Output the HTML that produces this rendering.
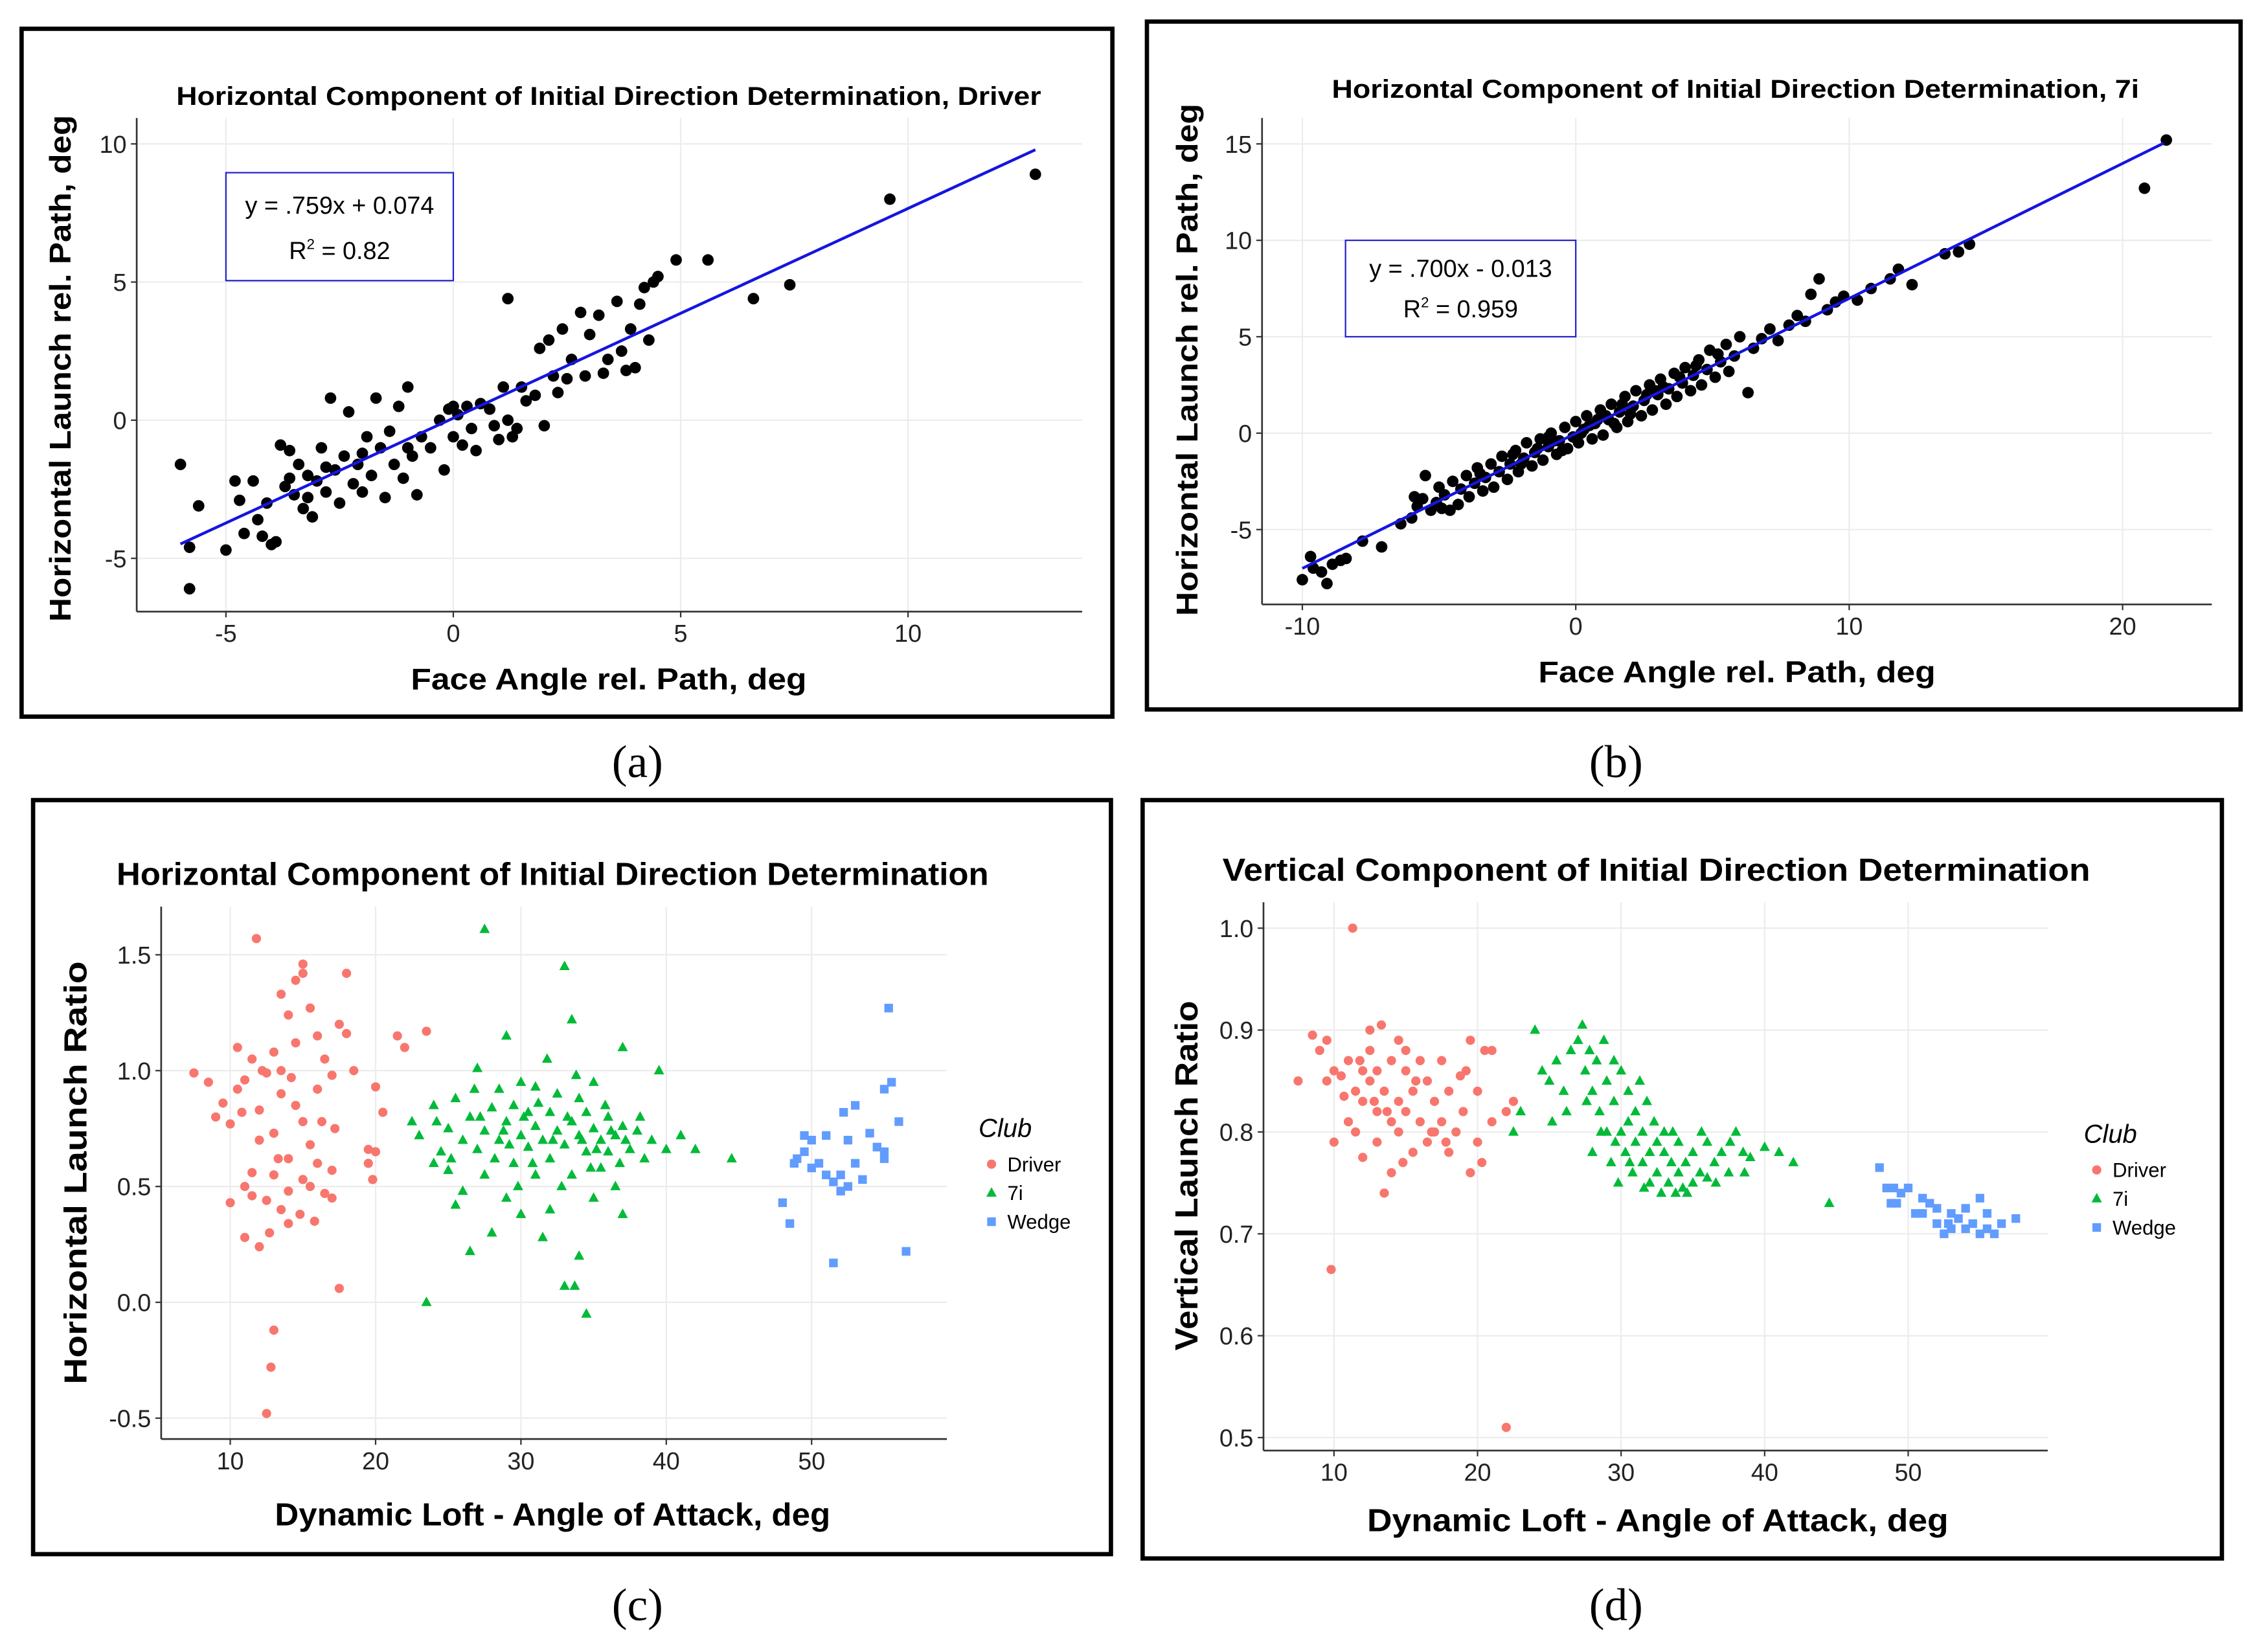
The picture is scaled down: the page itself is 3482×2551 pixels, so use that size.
<!DOCTYPE html>
<html><head><meta charset="utf-8"><style>
html,body{margin:0;padding:0;background:#fff}
svg{display:block}
text{font-family:"Liberation Sans",sans-serif}
text.cap{font-family:"Liberation Serif",serif}
</style></head><body>
<svg id="s" width="3482" height="2551" viewBox="0 0 1567 1148" preserveAspectRatio="none" xmlns="http://www.w3.org/2000/svg"></svg>
<script>
// ---- data (a) ----
const aX=[-6,-5.8,-5.8,-5.6,-5,-4.8,-4.6,-4.4,-4.3,-4.2,-4.1,-4.0,-3.9,-3.8,-3.7,-3.6,-3.5,-3.4,-3.3,-3.2,-3.1,-3.0,-2.9,-2.8,-2.7,-2.6,-2.5,-2.4,-2.3,-2.2,-2.1,-2.0,-1.9,-1.8,-1.7,-1.6,-1.5,-1.4,-1.3,-1.2,-1.1,-1.0,-0.9,-0.8,-0.7,-0.5,-0.3,-0.2,0,0,0.1,0.2,0.3,0.5,0.6,0.8,0.9,1.0,1.1,1.2,1.3,1.2,1.4,1.5,1.6,1.8,1.9,2.0,2.1,2.2,2.4,2.5,2.6,2.8,2.9,3.0,3.2,3.4,3.6,3.7,3.8,3.9,4.0,4.1,4.2,4.3,4.4,4.5,4.9,5.6,6.6,7.4,9.6,12.8,-3.6,-2.8,-1.0,0.4,2.3,3.3,-0.1,-4.7,-3.2,-2.0];
const aY=[-1.6,-4.6,-6.1,-3.1,-4.7,-2.2,-4.1,-2.2,-3.6,-4.2,-3.0,-4.5,-4.4,-0.9,-2.4,-1.1,-2.7,-1.6,-3.2,-2.0,-3.5,-2.2,-1.0,-2.6,0.8,-1.8,-3.0,-1.3,0.3,-2.3,-1.6,-2.6,-0.6,-2.0,0.8,-1.0,-2.8,-0.4,-1.6,0.5,-2.1,1.2,-1.3,-2.7,-0.6,-1.0,0.0,-1.8,0.5,-0.6,0.2,-0.9,0.5,-1.1,0.6,0.4,-0.2,-0.7,1.2,0.0,-0.6,4.4,-0.3,1.2,0.7,0.9,2.6,-0.2,2.9,1.6,3.3,1.5,2.2,3.9,1.6,3.1,3.8,2.2,4.3,2.5,1.8,3.3,1.9,4.2,4.8,2.9,5.0,5.2,5.8,5.8,4.4,4.9,8.0,8.9,-2.1,-1.7,-1.0,-0.3,1.0,1.7,0.4,-2.9,-2.8,-1.2];
const aFit=[0.759,0.074];
const aXticks=[-5,0,5,10], aYticks=[-5,0,5,10];
// ---- data (b) ----
const bX=[-10,-9.7,-9.6,-9.3,-9.1,-8.9,-8.6,-8.4,-7.8,-7.1,-6.4,-6.0,-5.8,-5.6,-5.5,-5.3,-5.1,-5.0,-4.8,-4.6,-4.5,-4.3,-4.2,-4.0,-3.9,-3.7,-3.6,-3.4,-3.3,-3.1,-3.0,-2.8,-2.7,-2.5,-2.4,-2.2,-2.1,-1.9,-1.8,-1.6,-1.5,-1.3,-1.2,-1.0,-0.9,-0.7,-0.6,-0.4,-0.3,-0.1,0,0.1,0.3,0.4,0.6,0.7,0.9,1.0,1.2,1.3,1.5,1.6,1.8,1.9,2.1,2.2,2.4,2.5,2.7,2.8,3.0,3.1,3.3,3.4,3.6,3.7,3.9,4.0,4.2,4.3,4.5,4.6,4.8,4.9,5.1,5.3,5.5,5.6,5.8,6.0,6.3,6.5,6.8,7.1,7.4,7.8,8.1,8.4,8.6,8.9,9.2,9.5,9.8,10.3,10.8,11.5,11.8,12.3,13.5,14.0,14.4,20.8,21.6,-2.0,-1.0,0.2,1.1,2.0,3.2,-0.5,0.5,-3.5,1.4,2.6,4.4,-5.9,-4.9,-2.3,0.8,1.7,-1.4,2.9,3.8,5.2,-0.8];
const bY=[-7.6,-6.4,-7.0,-7.2,-7.8,-6.8,-6.6,-6.5,-5.6,-5.9,-4.7,-4.4,-3.8,-3.4,-2.2,-4.0,-3.6,-2.8,-3.2,-4.0,-2.5,-3.7,-2.9,-2.2,-3.3,-2.6,-1.8,-3.0,-2.3,-1.6,-2.8,-2.0,-1.2,-2.4,-1.6,-0.9,-2.0,-1.3,-0.5,-1.7,-1.0,-0.3,-1.4,-0.7,0.0,-1.1,-0.4,0.3,-0.8,-0.2,0.6,-0.5,0.2,0.9,-0.3,0.5,1.2,-0.1,0.7,1.5,0.3,1.1,1.9,0.6,1.4,2.2,0.9,1.7,2.5,1.2,2.0,2.8,1.5,2.3,3.1,1.9,2.6,3.4,2.2,3.0,3.8,2.5,3.3,4.3,2.9,3.7,4.6,3.2,4.0,5.0,2.1,4.4,4.9,5.4,4.8,5.6,6.1,5.8,7.2,8.0,6.4,6.8,7.1,6.9,7.5,8.0,8.5,7.7,9.3,9.4,9.8,12.7,15.2,-1.6,-0.2,0.0,0.9,1.0,2.4,-0.9,0.4,-2.1,0.5,2.0,3.5,-3.3,-3.9,-1.1,0.7,1.5,-0.8,2.2,2.9,4.1,-0.4];
const bFit=[0.700,-0.013];
const bXticks=[-10,0,10,20], bYticks=[-5,0,5,10,15];
// ---- data (c) ----
const cDrvX=[7.5,8.5,9,9.5,10,10,10.5,10.5,11,11,11,11.5,11.5,11.5,11.8,12,12,12.2,12.5,12.5,12.5,12.8,13,13,13,13,13.5,13.5,13.5,13.5,14,14,14,14,14.5,14.5,14.5,14.8,15,15,15,15,15.5,15.5,15.5,16,16,16,16.5,16.5,17,17,17,17.5,17.5,18,18,18.5,19.5,19.5,20,20,20.5,21.5,22,23.5,12,13.3,14.2,16.3,10.8,12.7,15.8,17.2,19.8];
const cDrvY=[0.99,0.95,0.8,0.86,0.77,0.43,1.1,0.92,0.28,0.5,0.96,0.56,1.05,0.46,1.57,0.24,0.83,1.0,-0.48,0.44,0.99,-0.28,-0.12,1.08,0.73,0.55,1.33,0.9,0.4,1.0,1.24,0.62,0.48,0.34,1.39,0.85,1.12,0.38,1.42,0.78,0.53,1.46,1.27,0.5,0.68,1.15,0.92,0.6,0.47,1.05,0.98,0.57,0.45,1.2,0.06,1.42,1.16,1.0,0.66,0.6,0.93,0.65,0.82,1.15,1.1,1.17,0.7,0.62,0.97,0.78,0.82,0.3,0.35,0.75,0.53];
const c7iX=[22.5,23,23.5,24,24.5,25,25,25.5,26,26,26.5,26.5,27,27,27.5,27.5,27.5,28,28,28.5,28.5,29,29,29,29.5,29.5,30,30,30,30.5,30.5,31,31,31,31.5,31.5,32,32,32,32.5,32.5,33,33,33,33.5,33.5,33.5,34,34,34,34.5,34.5,34.5,35,35,35,35.5,35.5,36,36,36.5,36.5,37,37,37,37.5,38,38.5,39,39.5,40,41,42,44.5,24,25.5,26.8,28.2,29.8,30.8,31.8,32.8,33.8,34.8,35.8,36.8,32.2,30.2,28.8,27.2,33.2,34.2,35.2,36.2,31.2,29.2,25.2,33.7,24.2,38.2,37.2];
const c7iY=[0.78,0.72,0.0,0.85,0.65,0.75,0.57,0.88,0.7,0.48,0.8,0.22,0.66,1.01,1.61,0.74,0.55,0.84,0.3,0.7,0.92,0.78,0.45,1.15,0.6,0.85,0.72,0.95,0.38,0.67,0.82,0.76,0.55,0.93,0.7,0.28,0.82,0.62,0.4,0.74,0.9,1.45,0.68,0.07,0.78,1.22,0.55,0.72,0.2,0.88,0.65,-0.05,0.82,0.75,0.45,0.95,0.7,0.58,0.8,0.65,0.72,0.5,0.76,1.1,0.38,0.66,0.74,0.62,0.7,1.0,0.66,0.72,0.66,0.62,0.6,0.42,0.92,0.62,0.5,0.6,1.05,0.5,0.98,0.58,0.85,0.6,0.7,0.8,0.74,0.8,0.8,0.7,0.66,0.74,0.86,0.68,0.62,0.07,0.78,0.8,0.7];
const cWdgX=[48,48.5,48.8,49,49.5,49.5,50,50,50.5,51,51,51.5,51.5,52,52,52.5,52.5,53,53,53.5,54,54.5,55,55,55.3,55.5,56,56.5,52.2,55];
const cWdgY=[0.43,0.34,0.6,0.62,0.72,0.65,0.58,0.7,0.6,0.72,0.55,0.52,0.17,0.48,0.55,0.7,0.5,0.6,0.85,0.53,0.73,0.67,0.62,0.92,1.27,0.95,0.78,0.22,0.82,0.65];
const cXticks=[10,20,30,40,50], cYticks=[-0.5,0.0,0.5,1.0,1.5];
const cYlabels=["-0.5","0.0","0.5","1.0","1.5"];
// ---- data (d) ----
const dDrvX=[7.5,8.5,9,9.5,9.5,9.8,10,10,10.5,11,11,11.3,11.5,11.5,12,12,12,12.5,12.5,12.5,13,13,13,13.3,13.5,13.5,14,14,14,14.5,14.5,14.5,15,15,15,15.5,15.5,16,16,16.5,16.5,17,17,17.5,17.5,18,18,18.5,19,19.5,19.5,20,20,20.5,21,21,22,22,22.5,10.7,11.8,13.7,15.7,16.8,18.8,20.3,14.8,12.8,17.8,19.2];
const dDrvY=[0.85,0.895,0.88,0.89,0.85,0.665,0.79,0.86,0.855,0.87,0.81,1.0,0.84,0.8,0.86,0.83,0.775,0.88,0.85,0.9,0.82,0.86,0.79,0.905,0.84,0.74,0.87,0.81,0.76,0.89,0.83,0.8,0.86,0.82,0.88,0.84,0.78,0.87,0.81,0.85,0.79,0.83,0.8,0.87,0.81,0.84,0.78,0.8,0.82,0.76,0.89,0.84,0.79,0.88,0.81,0.88,0.82,0.51,0.83,0.835,0.87,0.82,0.85,0.8,0.855,0.77,0.77,0.83,0.79,0.86];
const d7iX=[23,24,24.5,25,25.5,26,26.5,27,27.3,27.5,27.8,28,28,28.3,28.5,28.8,29,29,29.3,29.5,29.5,29.8,30,30,30.3,30.5,30.5,30.8,31,31,31.3,31.5,31.5,31.8,32,32,32.3,32.5,32.5,32.8,33,33,33.3,33.5,33.8,34,34,34.3,34.5,35,35,35.5,36,36,36.5,37,37.5,38,38.5,39,40,41,42,44.5,22.5,26.2,25.2,27.6,28.6,29.6,30.6,31.6,33.6,35.6,34.6,36.6,37.6,38.6];
const d7iY=[0.82,0.9,0.86,0.85,0.87,0.84,0.88,0.89,0.905,0.86,0.88,0.84,0.78,0.87,0.82,0.89,0.85,0.8,0.77,0.87,0.83,0.75,0.8,0.86,0.78,0.84,0.81,0.76,0.82,0.79,0.85,0.77,0.8,0.83,0.78,0.75,0.81,0.76,0.79,0.74,0.78,0.8,0.75,0.77,0.74,0.76,0.79,0.745,0.77,0.78,0.75,0.76,0.79,0.755,0.77,0.78,0.76,0.8,0.78,0.775,0.785,0.78,0.77,0.73,0.8,0.82,0.81,0.83,0.8,0.79,0.77,0.745,0.8,0.8,0.74,0.75,0.79,0.76];
const dWdgX=[48,48.5,48.8,49,49.5,50,50.5,51,51,51.5,52,52,52.5,53,53,53.5,54,54,54.5,55,55,55.5,55.5,56,56.5,57.5,49.2,52.8];
const dWdgY=[0.765,0.745,0.73,0.745,0.74,0.745,0.72,0.735,0.72,0.73,0.71,0.725,0.7,0.72,0.705,0.715,0.725,0.705,0.71,0.735,0.7,0.72,0.705,0.7,0.71,0.715,0.73,0.71];
const dXticks=[10,20,30,40,50], dYticks=[0.5,0.6,0.7,0.8,0.9,1.0];
const dYlabels=["0.5","0.6","0.7","0.8","0.9","1.0"];

const NS="http://www.w3.org/2000/svg", S=document.getElementById('s');
function mk(tag,attrs,parent,txt){const e=document.createElementNS(NS,tag);for(const k in attrs)e.setAttribute(k,attrs[k]);if(txt!==undefined)e.textContent=txt;(parent||S).appendChild(e);return e;}
function lin(d0,d1,r0,r1){return v=>r0+(v-d0)*(r1-r0)/(d1-d0);}
const COL={drv:"#F8766D",i7:"#00BA38",wdg:"#619CFF"};

function panel(p){
  const g=mk('g',{});
  
  
  const fr=mk('rect',{x:p.frame[0],y:p.frame[1],width:p.frame[2],height:p.frame[3],fill:'none',stroke:'#000','stroke-width':3},g);
  
  const [L,T,R,B]=p.plot;
  const grid=mk('g',{},g);
  p.xt.forEach(v=>mk('line',{x1:p.sx(v),x2:p.sx(v),y1:T,y2:B,stroke:'#ececec','stroke-width':1},grid));
  p.yt.forEach(v=>mk('line',{x1:L,x2:R,y1:p.sy(v),y2:p.sy(v),stroke:'#ececec','stroke-width':1},grid));
  const ax=mk('g',{},g);
  mk('line',{x1:L,x2:L,y1:T,y2:B,stroke:'#333','stroke-width':1.2},ax);
  mk('line',{x1:L,x2:R,y1:B,y2:B,stroke:'#333','stroke-width':1.2},ax);
  const xl=mk('g',{},g);
  p.xt.forEach((v,i)=>{mk('line',{x1:p.sx(v),x2:p.sx(v),y1:B,y2:B+4,stroke:'#333'},ax);
    mk('text',{x:p.sx(v),y:B+p.tfs+4,'font-size':p.tfs,'text-anchor':'middle',fill:'#222'},xl,p.xl?p.xl[i]:String(v));});
  const yl=mk('g',{},g);
  p.yt.forEach((v,i)=>{mk('line',{x1:L-4,x2:L,y1:p.sy(v),y2:p.sy(v),stroke:'#333'},ax);
    mk('text',{x:L-7,y:p.sy(v)+p.tfs*0.36,'font-size':p.tfs,'text-anchor':'end',fill:'#222'},yl,p.yl?p.yl[i]:String(v));});
  const t=mk('text',{x:p.title[1],y:p.title[2],'font-size':p.title[3],'font-weight':'bold','text-anchor':'middle',textLength:p.title[4],lengthAdjust:'spacingAndGlyphs'},g,p.title[0]);
  
  const xt=mk('text',{x:p.xtitle[1],y:p.xtitle[2],'font-size':p.atfs,'font-weight':'bold','text-anchor':'middle',textLength:p.xtitle[3],lengthAdjust:'spacingAndGlyphs'},g,p.xtitle[0]);
  
  const yt=mk('text',{x:0,y:0,'font-size':p.atfs,'font-weight':'bold','text-anchor':'middle',textLength:p.ytitle[3],lengthAdjust:'spacingAndGlyphs',transform:`translate(${p.ytitle[1]},${p.ytitle[2]}) rotate(-90)`},g,p.ytitle[0]);
  
  return g;
}
function marker(g,shape,cx,cy,col,name){
  let e;
  if(shape==='c') e=mk('circle',{cx:cx,cy:cy,r:3.2,fill:col},g);
  else if(shape==='b') e=mk('circle',{cx:cx,cy:cy,r:4,fill:col},g);
  else if(shape==='t') e=mk('polygon',{points:`${cx},${cy-4} ${cx-3.6},${cy+2.6} ${cx+3.6},${cy+2.6}`,fill:col},g);
  else e=mk('rect',{x:cx-3,y:cy-3,width:6,height:6,fill:col},g);
  
  
}
function series(g,p,X,Y,shape,col,name){
  const sg=mk('g',{},g);
  X.forEach((x,i)=>marker(sg,shape,p.sx(x),p.sy(Y[i]),col,name+'-point'));
}
function eqBox(g,box,l1,r2){
  const bg=mk('g',{},g);
  mk('rect',{x:box[0],y:box[1],width:box[2],height:box[3],fill:'#fff',stroke:'#2222cc','stroke-width':1},bg);
  const cx=box[0]+box[2]/2;
  mk('text',{x:cx,y:box[1]+box[3]*0.38,'font-size':17,'text-anchor':'middle'},bg,l1);
  const t=mk('text',{x:cx,y:box[1]+box[3]*0.8,'font-size':17,'text-anchor':'middle'},bg);
  mk('tspan',{},t,'R');mk('tspan',{dy:-7,'font-size':10},t,'2');mk('tspan',{dy:7},t,' = '+r2);
}
function fitLine(g,p,fit,x0,x1){
  const l=mk('line',{x1:p.sx(x0),y1:p.sy(fit[0]*x0+fit[1]),x2:p.sx(x1),y2:p.sy(fit[0]*x1+fit[1]),stroke:'#1515e0','stroke-width':2},g);
  
}
function legend(g,x,y){
  const lg=mk('g',{},g);
  mk('text',{x:x,y:y,'font-size':18,'font-style':'italic'},lg,'Club');
  [['Driver','c',COL.drv],['7i','t',COL.i7],['Wedge','s',COL.wdg]].forEach((e,i)=>{
    const eg=mk('g',{},lg);
    const yy=y+24+i*20;marker(eg,e[1],x+9,yy-5,e[2],'legend-key');
    mk('text',{x:x+20,y:yy,'font-size':14},eg,e[0]);
  });
}
// (a)
const pa={name:'panel-a-driver',frame:[15,20,758,478],plot:[95,82,752,425],sx:lin(0,5,315,473),sy:lin(0,5,292,196),xt:aXticks,yt:aYticks,tfs:17,atfs:21,
 title:['Horizontal Component of Initial Direction Determination, Driver',423,73,18,601],xtitle:['Face Angle rel. Path, deg',423,479,275],ytitle:['Horizontal Launch rel. Path, deg',49,256,352]};
let g=panel(pa);series(g,pa,aX,aY,'b','#000','driver');fitLine(g,pa,aFit,-6,12.8);eqBox(g,[157,120,158,75],'y = .759x + 0.074','0.82');
// (b)
const pb={name:'panel-b-7i',frame:[797,15,760,478],plot:[877,82,1537,420],sx:lin(0,10,1095,1285),sy:lin(0,5,301,234),xt:bXticks,yt:bYticks,tfs:17,atfs:21,
 title:['Horizontal Component of Initial Direction Determination, 7i',1206,68,18,561],xtitle:['Face Angle rel. Path, deg',1207,474,276],ytitle:['Horizontal Launch rel. Path, deg',832,250,356]};
g=panel(pb);series(g,pb,bX,bY,'b','#000','iron7');fitLine(g,pb,bFit,-10,21.5);eqBox(g,[935,167,160,67],'y = .700x - 0.013','0.959');
// (c)
const pc={name:'panel-c-horizontal-ratio',frame:[23,556,749,524],plot:[112,630,658,1000],sx:lin(10,50,160,564),sy:lin(0,1,905,744),xt:cXticks,yt:cYticks,yl:cYlabels,tfs:17,atfs:22,
 title:['Horizontal Component of Initial Direction Determination',384,615,22,606],xtitle:['Dynamic Loft - Angle of Attack, deg',384,1060,386],ytitle:['Horizontal Launch Ratio',60,815,294]};
g=panel(pc);series(g,pc,cDrvX,cDrvY,'c',COL.drv,'driver');series(g,pc,c7iX,c7iY,'t',COL.i7,'iron7');series(g,pc,cWdgX,cWdgY,'s',COL.wdg,'wedge');legend(g,680,790);
// (d)
const pd={name:'panel-d-vertical-ratio',frame:[794,556,750,527],plot:[878,627,1423,1008],sx:lin(10,50,927,1326),sy:lin(0.5,1.0,999,645),xt:dXticks,yt:dYticks,yl:dYlabels,tfs:17,atfs:22,
 title:['Vertical Component of Initial Direction Determination',1151,612,22,603],xtitle:['Dynamic Loft - Angle of Attack, deg',1152,1064,404],ytitle:['Vertical Launch Ratio',832,817,243]};
g=panel(pd);series(g,pd,dDrvX,dDrvY,'c',COL.drv,'driver');series(g,pd,d7iX,d7iY,'t',COL.i7,'iron7');series(g,pd,dWdgX,dWdgY,'s',COL.wdg,'wedge');legend(g,1448,794);
// captions
[['(a)',443,540],['(b)',1123,540],['(c)',443,1126],['(d)',1123,1126]].forEach(c=>{
  const t=mk('text',{x:c[1],y:c[2],'font-size':32,'text-anchor':'middle','class':'cap'},S,c[0]);
  
  
});
</script>
</body></html>
